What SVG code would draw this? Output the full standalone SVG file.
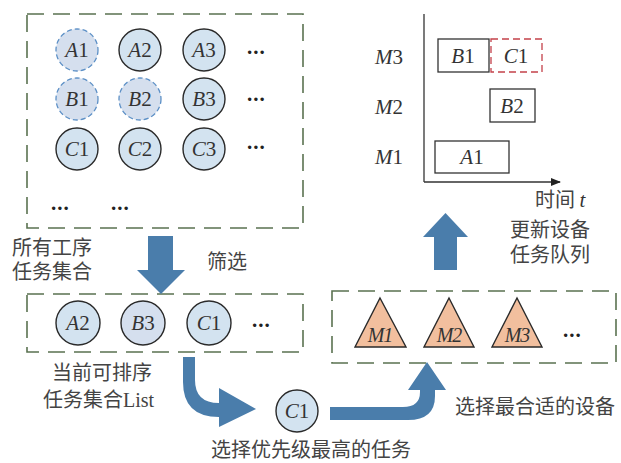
<svg xmlns="http://www.w3.org/2000/svg" width="621" height="463" viewBox="0 0 621 463">
<defs>
<style>
.box{fill:none;stroke:#5a7250;stroke-width:1.6;stroke-dasharray:17,9}
.c{fill:#d3e3f0;stroke:#2a2a2a;stroke-width:1.4}
.cd{fill:#d5dfee;stroke:#5d90c6;stroke-width:1.3;stroke-dasharray:5,3}
.tri{fill:#f2bf9e;stroke:#2a2a2a;stroke-width:1.4}
.lbl{font-family:"Liberation Serif",serif;font-size:21px;fill:#333;text-anchor:middle}
.i{font-style:italic}
.zh{font-family:"Noto Sans CJK SC",sans-serif;font-size:20px;fill:#444}
.dots{font-family:"Liberation Serif",serif;font-size:21px;font-weight:bold;fill:#222;letter-spacing:1px}
.arr{fill:#4a7dab}
.g{fill:none;stroke:#333;stroke-width:1.3}
.gr{fill:none;stroke:#c4414a;stroke-width:1.3;stroke-dasharray:7,4}
</style>
<marker id="ah" markerWidth="10" markerHeight="8" refX="9" refY="4" orient="auto" markerUnits="userSpaceOnUse">
<path d="M0,0 L10,4 L0,8 Z" fill="#222"/>
</marker>
</defs>

<g id="allTasks">
<rect class="box" x="27" y="14" width="276" height="214"/>
<g id="A1"><circle class="cd" cx="77" cy="50" r="21"/><text class="lbl" x="77" y="57"><tspan class="i">A</tspan>1</text></g>
<g id="A2"><circle class="c" cx="140" cy="50" r="21"/><text class="lbl" x="140" y="57"><tspan class="i">A</tspan>2</text></g>
<g id="A3"><circle class="c" cx="204" cy="50" r="21"/><text class="lbl" x="204" y="57"><tspan class="i">A</tspan>3</text></g>
<g id="B1"><circle class="cd" cx="77" cy="99" r="21"/><text class="lbl" x="77" y="106"><tspan class="i">B</tspan>1</text></g>
<g id="B2"><circle class="cd" cx="140" cy="99" r="21"/><text class="lbl" x="140" y="106"><tspan class="i">B</tspan>2</text></g>
<g id="B3"><circle class="c" cx="204" cy="99" r="21"/><text class="lbl" x="204" y="106"><tspan class="i">B</tspan>3</text></g>
<g id="C1"><circle class="c" cx="77" cy="149" r="21"/><text class="lbl" x="77" y="156"><tspan class="i">C</tspan>1</text></g>
<g id="C2"><circle class="c" cx="140" cy="149" r="21"/><text class="lbl" x="140" y="156"><tspan class="i">C</tspan>2</text></g>
<g id="C3"><circle class="c" cx="204" cy="149" r="21"/><text class="lbl" x="204" y="156"><tspan class="i">C</tspan>3</text></g>
<text class="dots" x="247" y="54">...</text>
<text class="dots" x="247" y="101">...</text>
<text class="dots" x="247" y="149">...</text>
<text class="dots" x="51" y="210">...</text>
<text class="dots" x="111" y="210">...</text>
</g>

<g id="currentList">
<rect class="box" x="27" y="294" width="276" height="58"/>
<g id="L-A2"><circle class="c" cx="78" cy="323" r="22"/><text class="lbl" x="78" y="330"><tspan class="i">A</tspan>2</text></g>
<g id="L-B3"><circle class="c" cx="143" cy="323" r="22" style="fill:#d5dfee"/><text class="lbl" x="143" y="330"><tspan class="i">B</tspan>3</text></g>
<g id="L-C1"><circle class="c" cx="209" cy="323" r="22"/><text class="lbl" x="209" y="330"><tspan class="i">C</tspan>1</text></g>
<text class="dots" x="252" y="327">...</text>
</g>

<g id="selected">
<circle class="c" cx="297" cy="411" r="21"/><text class="lbl" x="297" y="418"><tspan class="i">C</tspan>1</text>
</g>

<g id="machines">
<rect class="box" x="332" y="291" width="284" height="72"/>
<g id="M1"><polygon class="tri" points="380,298 406,347 355,347"/><text class="lbl i" x="380" y="342" style="font-size:20px;letter-spacing:-1px">M1</text></g>
<g id="M2"><polygon class="tri" points="449,298 474,347 424,347"/><text class="lbl i" x="449" y="342" style="font-size:20px;letter-spacing:-1px">M2</text></g>
<g id="M3"><polygon class="tri" points="517,298 542,347 492,347"/><text class="lbl i" x="517" y="342" style="font-size:20px;letter-spacing:-1px">M3</text></g>
<text class="dots" x="563" y="337">...</text>
</g>

<g id="gantt">
<line x1="424" y1="14" x2="424" y2="182" class="g"/>
<line x1="424" y1="182" x2="560" y2="182" class="g" marker-end="url(#ah)"/>
<text class="lbl" x="389" y="64"><tspan class="i">M</tspan>3</text>
<text class="lbl" x="389" y="114"><tspan class="i">M</tspan>2</text>
<text class="lbl" x="389" y="164"><tspan class="i">M</tspan>1</text>
<g id="g-B1"><rect class="g" x="438" y="39" width="51" height="33"/><text class="lbl" x="463" y="63"><tspan class="i">B</tspan>1</text></g>
<g id="g-C1"><rect class="gr" x="491" y="39" width="51" height="33"/><text class="lbl" x="516" y="63"><tspan class="i">C</tspan>1</text></g>
<g id="g-B2"><rect class="g" x="490" y="89" width="45" height="33"/><text class="lbl" x="512" y="113"><tspan class="i">B</tspan>2</text></g>
<g id="g-A1"><rect class="g" x="435" y="141" width="74" height="32"/><text class="lbl" x="472" y="164"><tspan class="i">A</tspan>1</text></g>
<text class="zh" x="535" y="207">时间 <tspan class="lbl i" style="text-anchor:start;font-size:21px">t</tspan></text>
</g>

<g id="connectors">
<path class="arr" d="M148,236 L173,236 L173,270 L185,270 L161,294 L137,270 L148,270 Z"/>
<path class="arr" d="M183,357 L195,357 L195,380 Q195,403 219,403 L219,388 L256,409 L219,427 L219,417 Q183,417 183,382 Z"/>
<path class="arr" d="M330,407 L403,407 Q420,407 420,392 L420,390 L408,390 L427,362 L446,390 L435,390 L435,396 Q435,420 408,420 L330,420 Z"/>
<path class="arr" d="M434,270 L457,270 L457,237 L468,237 L445.5,213 L423,237 L434,237 Z"/>
</g>

<g id="labels">
<text class="zh" x="12" y="255">所有工序<tspan x="12" dy="24">任务集合</tspan></text>
<text class="zh" x="207" y="269">筛选</text>
<text class="zh" x="52" y="380">当前可排序<tspan x="43" dy="27">任务集合</tspan><tspan style="font-family:'Liberation Serif',serif">List</tspan></text>
<text class="zh" x="311" y="457" style="text-anchor:middle">选择优先级最高的任务</text>
<text class="zh" x="535" y="414" style="text-anchor:middle">选择最合适的设备</text>
<text class="zh" x="510" y="237">更新设备<tspan x="510" dy="25">任务队列</tspan></text>
</g>
</svg>
